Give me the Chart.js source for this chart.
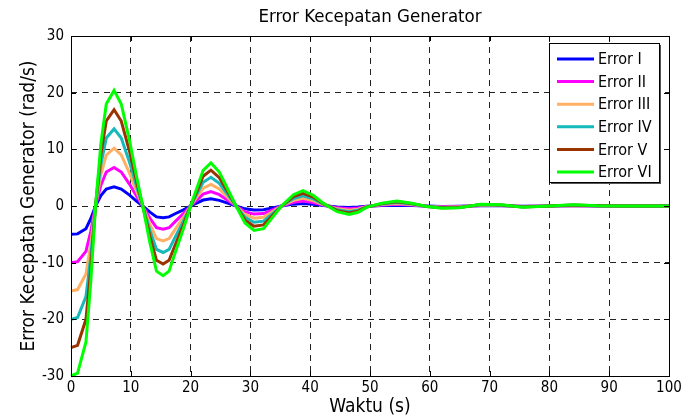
<!DOCTYPE html>
<html>
<head>
<meta charset="utf-8">
<script src="https://cdn.jsdelivr.net/npm/chart.js@4"></script>
<style>
  body { margin: 0; background: #fff; }
  canvas { display: block; }
</style>
</head>
<body>
<canvas id="canvas" width="691" height="418"></canvas>
<script>
// time (s) and the six error traces
const time = [0, 1.1, 2.5, 3.3, 4.1, 5.0, 5.9, 7.2, 8.4, 9.8, 11, 12, 13.2, 14.3, 15.4, 16.4, 17.5, 18.8, 20, 21,
  22.1, 23.4, 24.8, 26.2, 27.6, 29.1, 30.6, 32.2, 33.7, 35.2, 37.2, 38.8, 40.5, 42.2, 44.5, 46.5, 48, 49.5, 52, 54.5,
  57, 59.5, 62, 65, 68.5, 72, 75.5, 80, 84, 88, 92, 96, 100];

const errI = [-5, -4.92, -4, -2.25, 0, 1.83, 3, 3.4, 3, 1.92, 0.83, 0, -1.08, -1.92, -2.05, -1.92, -1.33, -0.67, 0, 0.5,
  1.05, 1.27, 1, 0.5, 0, -0.5, -0.72, -0.67, -0.33, 0, 0.33, 0.45, 0.32, 0.08, -0.17, -0.25, -0.18, -0.03, 0.08, 0.15,
  0.08, -0.02, -0.07, -0.05, 0.05, 0.03, -0.03, 0, 0.03, 0.01, 0, 0, 0];
const errII = [-10, -9.83, -8, -4.5, 0, 3.67, 6, 6.8, 6, 3.83, 1.67, 0, -2.17, -3.83, -4.1, -3.83, -2.67, -1.33, 0, 1,
  2.1, 2.53, 2, 1, 0, -1, -1.43, -1.33, -0.67, 0, 0.67, 0.9, 0.63, 0.17, -0.33, -0.5, -0.37, -0.07, 0.17, 0.3,
  0.17, -0.03, -0.13, -0.1, 0.1, 0.07, -0.07, 0, 0.07, 0.02, 0, 0, 0];
const errIII = [-15, -14.75, -12, -6.75, 0, 5.5, 9, 10.2, 9, 5.75, 2.5, 0, -3.25, -5.75, -6.15, -5.75, -4, -2, 0, 1.5,
  3.15, 3.8, 3, 1.5, 0, -1.5, -2.15, -2, -1, 0, 1, 1.35, 0.95, 0.25, -0.5, -0.75, -0.55, -0.1, 0.25, 0.45,
  0.25, -0.05, -0.2, -0.15, 0.15, 0.1, -0.1, 0, 0.1, 0.03, 0, 0, 0];
const errIV = [-20, -19.67, -16, -9, 0, 7.33, 12, 13.6, 12, 7.67, 3.33, 0, -4.33, -7.67, -8.2, -7.67, -5.33, -2.67, 0, 2,
  4.2, 5.07, 4, 2, 0, -2, -2.87, -2.67, -1.33, 0, 1.33, 1.8, 1.27, 0.33, -0.67, -1, -0.73, -0.13, 0.33, 0.6,
  0.33, -0.07, -0.27, -0.2, 0.2, 0.13, -0.13, 0, 0.13, 0.03, 0, 0, 0];
const errV = [-25, -24.58, -20, -11.25, 0, 9.17, 15, 17, 15, 9.58, 4.17, 0, -5.42, -9.58, -10.25, -9.58, -6.67, -3.33, 0, 2.5,
  5.25, 6.33, 5, 2.5, 0, -2.5, -3.58, -3.33, -1.67, 0, 1.67, 2.25, 1.58, 0.42, -0.83, -1.25, -0.92, -0.17, 0.42, 0.75,
  0.42, -0.08, -0.33, -0.25, 0.25, 0.17, -0.17, 0, 0.17, 0.04, 0, 0, 0];
const errVI = [-30, -29.5, -24, -13.5, 0, 11, 18, 20.4, 18, 11.5, 5, 0, -6.5, -11.5, -12.3, -11.5, -8, -4, 0, 3,
  6.3, 7.6, 6, 3, 0, -3, -4.3, -4, -2, 0, 2, 2.7, 1.9, 0.5, -1, -1.5, -1.1, -0.2, 0.5, 0.9,
  0.5, -0.1, -0.4, -0.3, 0.3, 0.2, -0.2, 0, 0.2, 0.05, 0, 0, 0];

const labels = ['Error I', 'Error II', 'Error III', 'Error IV', 'Error V', 'Error VI'];
const colors = ['#0000ff', '#ff00ff', '#ffb065', '#14b9b9', '#993300', '#00ff00'];
const series = [errI, errII, errIII, errIV, errV, errVI];

const xTicks = [0, 10, 20, 30, 40, 50, 60, 70, 80, 90, 100];
const yTicks = [-30, -20, -10, 0, 10, 20, 30];

const FONT = "'Liberation Sans Narrow', 'DejaVu Sans Condensed', 'Liberation Sans', sans-serif";

const datasets = series.map((s, i) => ({
  label: labels[i],
  data: time.map((t, k) => ({ x: t, y: s[k] })),
  borderColor: colors[i],
  backgroundColor: colors[i],
  borderWidth: 3,
  pointRadius: 0,
  tension: 0,
  fill: false,
  order: series.length - i,
  clip: 3
}));

// frame, inner ticks, titles and legend like the matlab figure
const matlabBits = {
  id: 'matlabBits',
  afterDraw(chart) {
    const ctx = chart.ctx;
    const a = chart.chartArea;
    const xs = chart.scales.x, ys = chart.scales.y;
    ctx.save();
    ctx.strokeStyle = '#000';
    ctx.lineWidth = 1;
    ctx.setLineDash([]);
    ctx.beginPath();
    xTicks.forEach(v => {
      const px = Math.round(xs.getPixelForValue(v)) + 0.5;
      ctx.moveTo(px, a.bottom); ctx.lineTo(px, a.bottom - 5);
      ctx.moveTo(px, a.top); ctx.lineTo(px, a.top + 5);
    });
    yTicks.forEach(v => {
      const py = Math.round(ys.getPixelForValue(v)) + 0.5;
      ctx.moveTo(a.left, py); ctx.lineTo(a.left + 5, py);
      ctx.moveTo(a.right, py); ctx.lineTo(a.right - 5, py);
    });
    ctx.stroke();
    ctx.strokeRect(Math.round(a.left) + 0.5, Math.round(a.top) + 0.5,
      Math.round(a.right - a.left), Math.round(a.bottom - a.top));

    const cx = (a.left + a.right) / 2;
    ctx.fillStyle = '#000';
    ctx.textAlign = 'center';
    ctx.textBaseline = 'middle';
    ctx.font = '18.5px ' + FONT;
    ctx.fillText('Error Kecepatan Generator', cx, 17);
    ctx.font = '19px ' + FONT;
    ctx.fillText('Waktu (s)', cx, 407);
    ctx.save();
    ctx.translate(29, (a.top + a.bottom) / 2);
    ctx.rotate(-Math.PI / 2);
    ctx.fillText('Error Kecepatan Generator (rad/s)', 0, 0);
    ctx.restore();

    // legend box
    const bx = 549, by = 43, bw = 110, bh = 139;
    ctx.fillStyle = '#fff';
    ctx.fillRect(bx, by, bw, bh);
    ctx.strokeStyle = '#555';
    ctx.lineWidth = 2;
    ctx.beginPath();
    ctx.moveTo(bx + bw + 1, by + 2); ctx.lineTo(bx + bw + 1, by + bh + 1); ctx.lineTo(bx + 2, by + bh + 1);
    ctx.stroke();
    ctx.strokeStyle = '#000';
    ctx.lineWidth = 1;
    ctx.strokeRect(bx + 0.5, by + 0.5, bw, bh);
    ctx.font = '16px ' + FONT;
    ctx.textAlign = 'left';
    chart.data.datasets.forEach((d, i) => {
      const y = by + 16 + i * 22.6;
      ctx.strokeStyle = d.borderColor;
      ctx.lineWidth = 3;
      ctx.beginPath();
      ctx.moveTo(557, y); ctx.lineTo(594, y);
      ctx.stroke();
      ctx.fillStyle = '#000';
      ctx.fillText(d.label, 598, y + 1);
    });
    ctx.restore();
  }
};

const gridOpts = { color: '#222', lineWidth: 1, drawTicks: false };

new Chart(document.getElementById('canvas').getContext('2d'), {
  type: 'line',
  data: { datasets: datasets },
  options: {
    responsive: false,
    animation: false,
    devicePixelRatio: 1,
    layout: { padding: { top: 36, right: 22, left: 0, bottom: 0 } },
    plugins: {
      legend: { display: false },
      title: { display: false },
      tooltip: { enabled: false }
    },
    scales: {
      x: {
        type: 'linear',
        min: 0, max: 100,
        afterFit: s => { s.height = 42; },
        afterBuildTicks: s => { s.ticks = xTicks.map(v => ({ value: v })); },
        grid: gridOpts,
        border: { display: false, dash: [6, 5] },
        ticks: { color: '#000', padding: 3, maxRotation: 0, font: { family: FONT, size: 15 } }
      },
      y: {
        type: 'linear',
        min: -30, max: 30,
        afterFit: s => { s.width = 71; },
        afterBuildTicks: s => { s.ticks = yTicks.map(v => ({ value: v })); },
        grid: gridOpts,
        border: { display: false, dash: [6, 5] },
        ticks: { color: '#000', padding: 7, font: { family: FONT, size: 15 } }
      }
    }
  },
  plugins: [matlabBits]
});
</script>
</body>
</html>
